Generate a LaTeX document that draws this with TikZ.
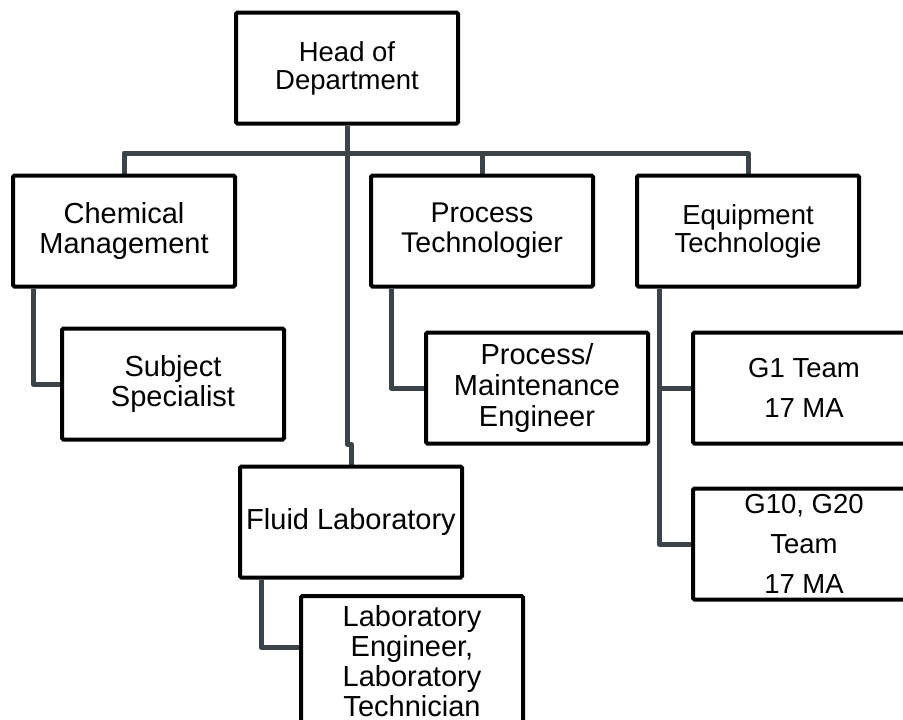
\documentclass[tikz,border=0pt]{standalone}
\usepackage{fontspec}
\setmainfont{Liberation Sans}
\usetikzlibrary{backgrounds}
\definecolor{linkgray}{HTML}{3C4349}

\begin{document}
\begin{tikzpicture}[x=1pt,y=-1pt,
  orgbox/.style={draw=black, line width=4pt, fill=white, rounded corners=1.5pt,
    minimum width=222pt, minimum height=111pt, inner sep=0pt, align=center,
    font=\fontsize{29}{30}\selectfont},
  link/.style={draw=linkgray, line width=5pt, line join=round}]
\useasboundingbox (0,0) rectangle (903,720);
\clip (0,0) rectangle (903,720);

% boxes of the organisation chart
\node[orgbox, font=\fontsize{27.5}{28}\selectfont] (head) at (347,68) {Head of\\Department};
\node[orgbox] (chem) at (124,231) {Chemical\\Management};
\node[orgbox, font=\fontsize{28.5}{30}\selectfont] (proc) at (482,231) {Process\\Technologier};
\node[orgbox, font=\fontsize{27.5}{28}\selectfont] (equip) at (748,231) {Equipment\\Technologie};
\node[orgbox] (subj) at (173,384) {Subject\\Specialist};
\node[orgbox, font=\fontsize{29}{31}\selectfont] (pme) at (537,388) {Process/\\Maintenance\\Engineer};
\node[orgbox, font=\fontsize{27.5}{40}\selectfont] (g1) at (804,388) {G1 Team\\17 MA};
\node[orgbox, font=\fontsize{27.5}{40}\selectfont] (g10) at (804,544) {G10, G20\\Team\\17 MA};
\node[orgbox] (fluid) at (351,522) {Fluid Laboratory};
\node[orgbox, minimum height=130pt] (labeng) at (412,661) {Laboratory\\Engineer,\\Laboratory\\Technician};

% reporting lines, kept behind the boxes
\coordinate (bus) at ([yshift=-27.5pt]head.south);
\coordinate (jog) at (347,444);
\begin{scope}[on background layer]
  \draw[link] (chem.north) |- (bus) -| (equip.north);
  \draw[link] (proc.north) -- (proc.north |- bus);
  \draw[link] (head.south) -- (jog) -| (fluid.north);
  \draw[link] ([xshift=22pt]chem.south west) |- (subj.west);
  \draw[link] ([xshift=22pt]proc.south west) |- (pme.west);
  \draw[link] ([xshift=24pt]equip.south west) |- (g1.west);
  \draw[link] ([xshift=24pt]equip.south west) |- (g10.west);
  \draw[link] ([xshift=23pt]fluid.south west) |- ([yshift=14pt]labeng.west);
\end{scope}
\end{tikzpicture}
\end{document}
